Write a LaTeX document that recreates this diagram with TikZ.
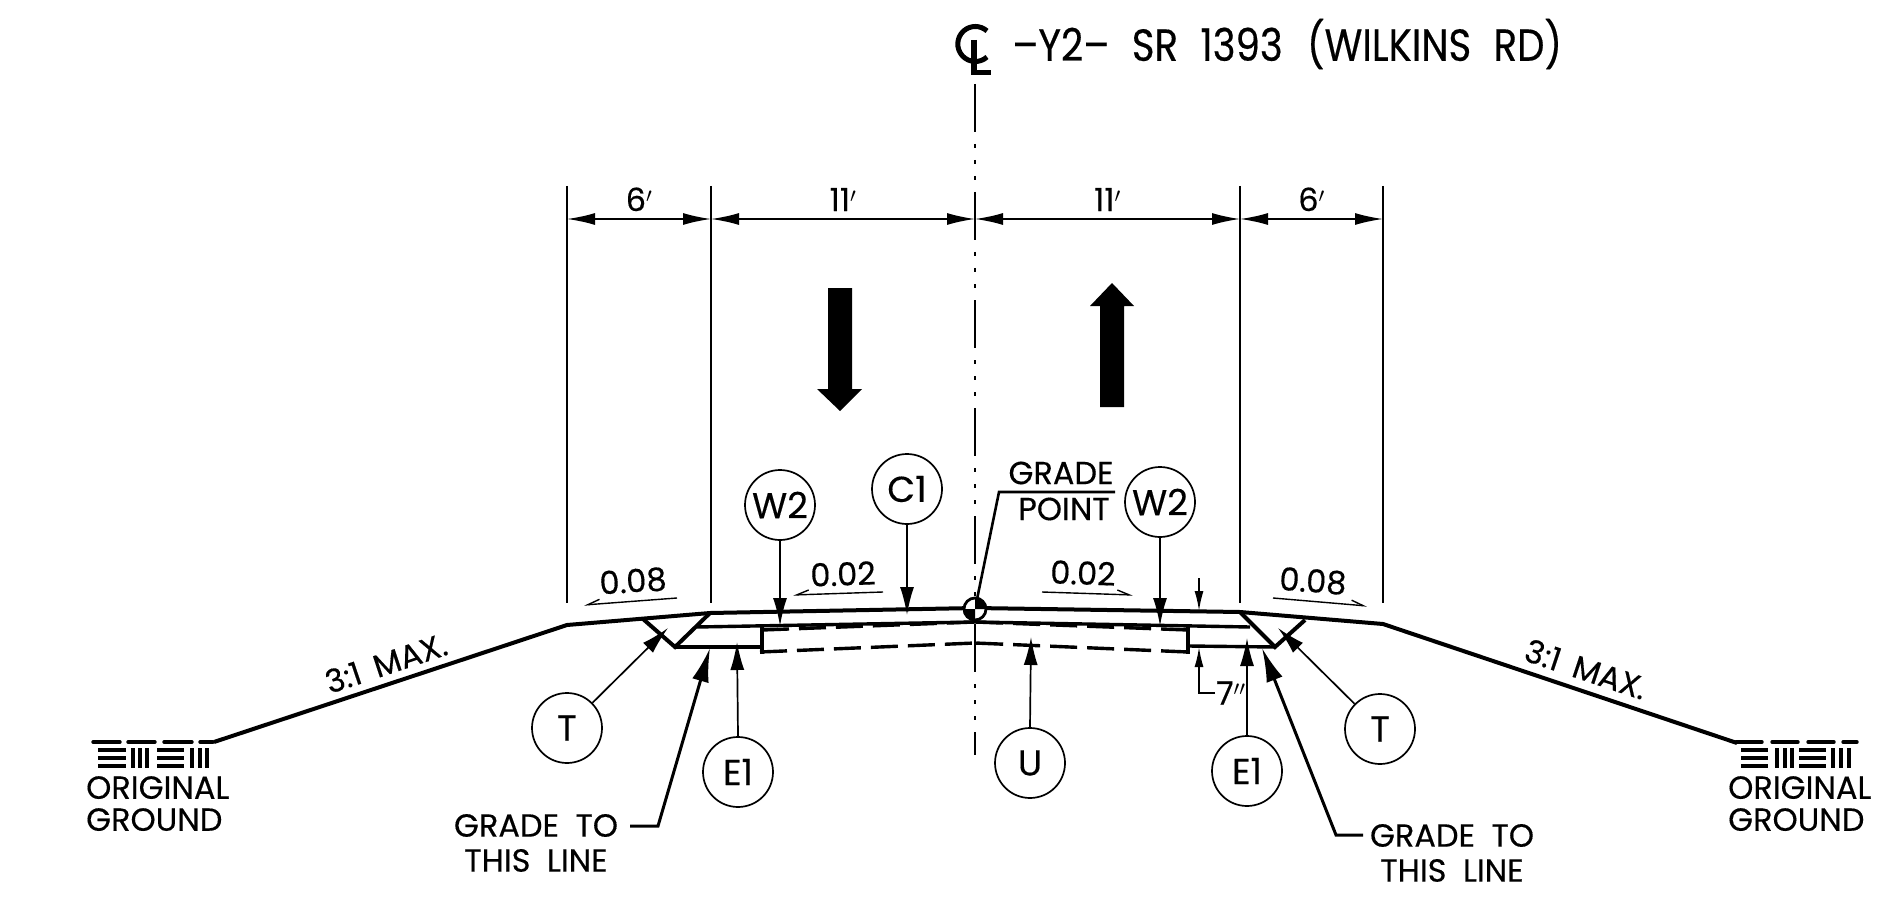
\documentclass[tikz,border=0pt]{standalone}
\usepackage{fontspec}
\setmainfont{Poppins}[FakeBold=0.35]
\newfontfamily\titlefont{Poppins}[FakeStretch=0.86,FakeBold=0.35]
\usetikzlibrary{arrows.meta}
\newcommand{\txtsize}{\fontsize{32}{34}\selectfont}
\begin{document}
\begin{tikzpicture}[x=1pt,y=-1pt,line cap=butt,
		thin line/.style={line width=1.7pt},
		road/.style={line width=4pt,line join=miter},
		sublayer/.style={line width=3.4pt},
		hidden/.style={line width=3.4pt,dash pattern=on 27pt off 10pt},
		cline/.style={line width=2.2pt,dash pattern=on 48pt off 12pt on 4pt off 12pt on 4pt off 12pt on 4pt off 12pt},
		dim/.style={thin line,{Latex[length=28pt,width=12pt]}-{Latex[length=28pt,width=12pt]}},
		lead/.style={thin line,-{Latex[length=28pt,width=14pt]}},
		bigleader/.style={line width=3pt,-{Latex[length=34pt,width=17pt]}},
		fallL/.style={line width=1.4pt,-{Straight Barb[harpoon,swap,length=12pt,width=9pt]}},
		fallR/.style={line width=1.4pt,-{Straight Barb[harpoon,length=12pt,width=9pt]}},
		callout/.style={circle,draw,line width=1.7pt,minimum size=70pt,inner sep=0pt,font=\fontsize{36}{38}\selectfont},
		lbl/.style={inner sep=0pt,font=\txtsize},
		twoline/.style={lbl,align=center},
		ground/.style={line width=3.4pt,line cap=round}]
	\useasboundingbox (0,0) rectangle (1894,909);
	% road profile
	\coordinate (slopeL) at (214,742);
	\coordinate (shoulderL) at (567,625);
	\coordinate (edgeL) at (710,613);
	\coordinate (crown) at (975,608);
	\coordinate (edgeR) at (1240,612);
	\coordinate (shoulderR) at (1383,624);
	\coordinate (slopeR) at (1737,743);
	\coordinate (toeL) at (675,647);
	\coordinate (toeR) at (1275,647);
	\draw[road] (slopeL) -- (shoulderL) -- (edgeL) -- (crown) -- (edgeR) -- (shoulderR) -- (slopeR);
	\draw[road] (edgeL) -- (toeL) -- (643,619);
	\draw[road] (edgeR) -- (toeR) -- (1305,620);
	\draw[sublayer] (697,627) -- (975,622) -- (1250,627);
	\draw[sublayer] (toeL) -- (762,647);
	\draw[sublayer] (1188,646) -- (toeR);
	% undercut
	\draw[sublayer] (762,624) -- (762,654);
	\draw[sublayer] (1188,626) -- (1188,654);
	\draw[hidden] (762,630) -- (975,622);
	\draw[hidden] (1188,630) -- (975,622);
	\draw[hidden] (760,652) -- (975,643);
	\draw[hidden] (1188,652) -- (975,643);
	% center line
	\draw[cline] (975,84) -- (975,755);
	\draw[line width=5pt] (987,57) arc (48:312:17.5);
	\draw[line width=6pt] (974,40) -- (974,75);
	\draw[line width=5pt] (971,73) -- (991,73);
	\node[lbl,anchor=west,font=\titlefont\fontsize{45}{48}\selectfont] (title) at (1012,44) {–Y2–\hspace{12pt} SR\hspace{12pt} 1393\hspace{14pt} (WILKINS\hspace{12pt} RD)};
	% dimensions
	\foreach \nm/\xx in {a/567,b/711,d/1240,e/1383}{
		\coordinate (\nm top) at (\xx,186);
		\coordinate (\nm bot) at (\xx,603);
		\draw[thin line] (\nm top) -- (\nm bot);
		\coordinate (\nm dim) at (\xx,219);
	}
	\coordinate (cdim) at (975,219);
	\draw[dim] (adim) -- node[lbl,above=7pt,pos=.5] (sixL) {6$'$} (bdim);
	\draw[dim] (bdim) -- node[lbl,above=7pt,pos=.5] (elevenL) {11$'$} (cdim);
	\draw[dim] (cdim) -- node[lbl,above=7pt,pos=.5] (elevenR) {11$'$} (ddim);
	\draw[dim] (ddim) -- node[lbl,above=7pt,pos=.5] (sixR) {6$'$} (edim);
	% direction arrows
	\fill (828,288) -- (852,288) -- (852,389) -- (862,389) -- (840,411) -- (817,389) -- (828,389) -- cycle;
	\fill (1100,407) -- (1124,407) -- (1124,306) -- (1134,306) -- (1112,283) -- (1090,306) -- (1100,306) -- cycle;
	% grade point
	\node[twoline] (gradetxt) at (1061,473) {GRADE};
	\node[twoline] (pointtxt) at (1064,509) {POINT};
	\coordinate (gradeend) at (1115,492);
	\coordinate (gradeknee) at (999,492);
	\coordinate (gradept) at (975,609);
	\draw[line width=2.6pt] (gradeend) -- (gradeknee) -- (gradept);
	\draw[fill=white,line width=2.8pt] (gradept) circle (11);
	\fill (gradept) -- (986,609) arc (0:-90:11) -- cycle;
	\fill (gradept) -- (964,609) arc (180:90:11) -- cycle;
	% callouts
	\node[callout] (w2L) at (780,505) {W2};
	\node[callout] (c1) at (907,489) {C1};
	\node[callout] (w2R) at (1160,502) {W2};
	\node[callout] (tL) at (567,728) {T};
	\node[callout] (e1L) at (738,772) {E1};
	\node[callout] (u) at (1030,763) {U};
	\node[callout] (e1R) at (1247,771) {E1};
	\node[callout] (tR) at (1380,729) {T};
	\coordinate (w2Ltip) at (780,626);
	\coordinate (c1tip) at (907,615);
	\coordinate (w2Rtip) at (1160,626);
	\coordinate (ttipL) at (668,628);
	\coordinate (ttipR) at (1278,628);
	\coordinate (e1Ltip) at (737,642);
	\coordinate (e1Rtip) at (1247,638);
	\coordinate (utip) at (1031,637);
	\draw[lead] (w2L) -- (w2Ltip);
	\draw[lead] (c1) -- (c1tip);
	\draw[lead] (w2R) -- (w2Rtip);
	\draw[lead] (tL) -- (ttipL);
	\draw[lead] (tR) -- (ttipR);
	\draw[lead] (e1L.north) -- (e1Ltip);
	\draw[lead] (e1R.north) -- (e1Rtip);
	\draw[lead] (u.north) -- (utip);
	% grade to this line
	\node[twoline] (gradeL) at (536,843) {GRADE\hspace{8pt} TO\\[1pt]THIS\hspace{8pt} LINE};
	\node[twoline] (gradeR) at (1452,853) {GRADE\hspace{8pt} TO\\[1pt]THIS\hspace{8pt} LINE};
	\coordinate (kneeL) at (658,826);
	\coordinate (kneeR) at (1336,835);
	\coordinate (tipL) at (710,648);
	\coordinate (tipR) at (1262,648);
	\draw[bigleader] (630,826) -- (kneeL) -- (tipL);
	\draw[bigleader] (1363,835) -- (kneeR) -- (tipR);
	% 7 inch
	\coordinate (sevenA) at (1199,578);
	\coordinate (sevenB) at (1199,611);
	\coordinate (sevenC) at (1215,693);
	\coordinate (sevenD) at (1199,693);
	\coordinate (sevenE) at (1199,647);
	\draw[lead,-{Latex[length=20pt,width=9pt]}] (sevenA) -- (sevenB);
	\draw[lead,-{Latex[length=20pt,width=9pt]}] (sevenC) -- (sevenD) -- (sevenE);
	\node[lbl,anchor=west] (seven) at (1216,693) {7$''$};
	% cross slopes
	\coordinate (s1a) at (677,598);
	\coordinate (s1b) at (584,605);
	\coordinate (s2a) at (883,592);
	\coordinate (s2b) at (793,595);
	\coordinate (s3a) at (1042,592);
	\coordinate (s3b) at (1133,595);
	\coordinate (s4a) at (1273,598);
	\coordinate (s4b) at (1367,606);
	\draw[fallL] (s1a) -- (s1b);
	\draw[fallL] (s2a) -- (s2b);
	\draw[fallR] (s3a) -- (s3b);
	\draw[fallR] (s4a) -- (s4b);
	\node[lbl,rotate=4] (oeightL) at (633,581) {0.08};
	\node[lbl,rotate=2] (otwoL) at (843,574) {0.02};
	\node[lbl,rotate=-2] (otwoR) at (1083,573) {0.02};
	\node[lbl,rotate=-4] (oeightR) at (1313,581) {0.08};
	\node[lbl,rotate=18.5] (maxL) at (386,663) {3:1\hspace{6pt} MAX.};
	\node[lbl,rotate=-18.5] (maxR) at (1586,669) {3:1\hspace{6pt} MAX.};
	% original ground
	\node[twoline,anchor=north west,align=left] (ogL) at (86,776) {ORIGINAL\\[-2pt]GROUND};
	\node[twoline,anchor=north west,align=left] (ogR) at (1728,776) {ORIGINAL\\[-2pt]GROUND};
	\foreach \aa/\bb in {93/120,128/155,164/192,200/213,1736/1762,1772/1798,1808/1834,1843/1857}
		\draw[ground] (\aa,742) -- (\bb,742);
	\foreach \aa/\bb in {98/126,157/184,1741/1768,1799/1826}
		\foreach \yy in {750,758,766}
			\draw[ground,line cap=butt] (\aa,\yy) -- (\bb,\yy);
	\foreach \xx in {133,140,147,192,200,207,1777,1785,1792,1833,1841,1849}
		\draw[ground,line cap=butt] (\xx,748) -- (\xx,768);
\end{tikzpicture}
\end{document}
